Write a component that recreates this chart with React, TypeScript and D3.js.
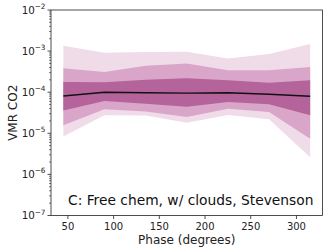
import React, { useEffect, useRef } from 'react'
import * as d3 from 'd3'

const phases = [45, 90, 135, 180, 225, 270, 315]
const median = [8.1e-5, 1.0e-4, 9.7e-5, 9.5e-5, 9.7e-5, 8.9e-5, 8.0e-5]
const lo1 = [3.6e-5, 6.1e-5, 5.2e-5, 4.4e-5, 5.8e-5, 5.1e-5, 2.75e-5]
const hi1 = [1.78e-4, 1.75e-4, 2.0e-4, 2.2e-4, 1.96e-4, 1.7e-4, 1.96e-4]
const lo2 = [1.57e-5, 3.85e-5, 3.4e-5, 2.5e-5, 3.96e-5, 3.3e-5, 7.4e-6]
const hi2 = [3.8e-4, 3.1e-4, 4.4e-4, 5.0e-4, 3.4e-4, 3.4e-4, 4.1e-4]
const lo3 = [8.4e-6, 2.75e-5, 2.7e-5, 1.8e-5, 2.8e-5, 2.2e-5, 2.6e-6]
const hi3 = [1.35e-3, 9.1e-4, 9.5e-4, 9.6e-4, 6.6e-4, 8.5e-4, 1.48e-3]

const xTicks = [50, 100, 150, 200, 250, 300]
const yExponents = [-2, -3, -4, -5, -6, -7]

const label = 'C: Free chem, w/ clouds, Stevenson'

export default function App() {
  const ref = useRef<SVGSVGElement>(null)

  useEffect(() => {
    if (!ref.current) return
    const svg = d3.select(ref.current)
    svg.selectAll('*').remove()

    const width = 332
    const height = 252
    const margin = { top: 10, right: 9.5, bottom: 36.5, left: 51 }
    const font = 'DejaVu Sans, sans-serif'

    const x = d3.scaleLinear().domain([31.5, 328.5]).range([margin.left, width - margin.right])
    const y = d3.scaleLog().domain([1e-7, 1e-2]).range([height - margin.bottom, margin.top])

    const bands = [
      { lo: lo3, hi: hi3, color: '#f0dce9' },
      { lo: lo2, hi: hi2, color: '#d9a6c9' },
      { lo: lo1, hi: hi1, color: '#b5639b' },
    ]

    const area = d3.area<number>()
      .x((_, i) => x(phases[i]))

    bands.forEach(b => {
      svg.append('path')
        .attr('d', area.y0((_, i) => y(b.lo[i])).y1((_, i) => y(b.hi[i]))(phases) as string)
        .attr('fill', b.color)
    })

    const line = d3.line<number>()
      .x((_, i) => x(phases[i]))
      .y(d => y(d))
    svg.append('path')
      .attr('d', line(median) as string)
      .attr('fill', 'none')
      .attr('stroke', '#111')
      .attr('stroke-width', 1.4)

    // Frame
    svg.append('rect')
      .attr('x', margin.left)
      .attr('y', margin.top)
      .attr('width', width - margin.left - margin.right)
      .attr('height', height - margin.top - margin.bottom)
      .attr('fill', 'none')
      .attr('stroke', '#222')
      .attr('stroke-width', 0.8)

    // X axis
    const xb = height - margin.bottom
    xTicks.forEach(t => {
      svg.append('line')
        .attr('x1', x(t)).attr('x2', x(t))
        .attr('y1', xb).attr('y2', xb + 3.5)
        .attr('stroke', '#222').attr('stroke-width', 0.8)
      svg.append('text')
        .attr('x', x(t)).attr('y', xb + 14)
        .attr('text-anchor', 'middle')
        .style('font-family', font).style('font-size', '10px').style('fill', '#222')
        .text(t)
    })

    // Y axis, major + minor ticks
    yExponents.forEach(e => {
      const yy = y(Math.pow(10, e))
      svg.append('line')
        .attr('x1', margin.left - 3.5).attr('x2', margin.left)
        .attr('y1', yy).attr('y2', yy)
        .attr('stroke', '#222').attr('stroke-width', 0.8)
      const t = svg.append('text')
        .attr('x', margin.left - 5.5).attr('y', yy + 3.8)
        .attr('text-anchor', 'end')
        .style('font-family', font).style('font-size', '10.3px').style('fill', '#222')
      t.append('tspan').text('10')
      t.append('tspan').attr('dy', -4.8).style('font-size', '7.3px').text(`\u2212${-e}`)
      if (e > -7) {
        for (let k = 2; k <= 9; k++) {
          const ym = y(k * Math.pow(10, e - 1))
          svg.append('line')
            .attr('x1', margin.left - 2).attr('x2', margin.left)
            .attr('y1', ym).attr('y2', ym)
            .attr('stroke', '#222').attr('stroke-width', 0.6)
        }
      }
    })

    // Axis labels
    svg.append('text')
      .attr('x', (margin.left + width - margin.right) / 2)
      .attr('y', height - 8)
      .attr('text-anchor', 'middle')
      .style('font-family', font).style('font-size', '12px').style('fill', '#222')
      .text('Phase (degrees)')

    svg.append('text')
      .attr('transform', `translate(16.5, ${(margin.top + height - margin.bottom) / 2}) rotate(-90)`)
      .attr('text-anchor', 'middle')
      .style('font-family', font).style('font-size', '12px').style('fill', '#222')
      .text('VMR CO2')

    svg.append('text')
      .attr('x', 68)
      .attr('y', 205)
      .style('font-family', font).style('font-size', '13.8px').style('fill', '#111')
      .text(label)
  }, [])

  return (
    <svg ref={ref} width={332} height={252} style={{ position: 'absolute', left: 0, top: 0, background: '#fff' }} />
  )
}
